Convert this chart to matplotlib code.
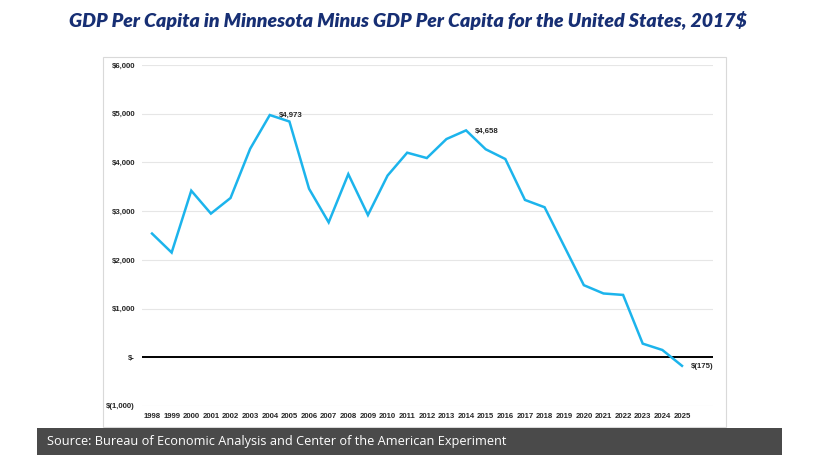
import matplotlib
matplotlib.use("Agg")
import matplotlib.pyplot as plt
from matplotlib.patches import Rectangle

years = [str(y) for y in range(1998, 2026)]
values = [2540, 2150, 3420, 2950, 3270, 4280, 4973, 4840, 3460, 2770,
          3760, 2920, 3730, 4200, 4090, 4480, 4658, 4270, 4070, 3230,
          3080, 2280, 1480, 1310, 1280, 280, 150, -175]
ytick_vals = [-1000, 0, 1000, 2000, 3000, 4000, 5000, 6000]
ytick_labels = ["$(1,000)", "$-", "$1,000", "$2,000", "$3,000", "$4,000", "$5,000", "$6,000"]
annot_years = ["2004", "2014", "2025"]
annot_labels = ["$4,973", "$4,658", "$(175)"]
title = "GDP Per Capita in Minnesota Minus GDP Per Capita for the United States, 2017$"
source = "Source: Bureau of Economic Analysis and Center of the American Experiment"

W, H = 813, 469
fig = plt.figure(figsize=(W / 100, H / 100), dpi=100)
fig.patch.set_facecolor("white")

def fx(px):
    return px / W

def fy(py):
    return 1 - py / H

# chart box border
fig.patches.append(Rectangle((fx(103), fy(427)), fx(726) - fx(103), fy(57) - fy(427),
                             transform=fig.transFigure, facecolor="white",
                             edgecolor="#d9d9d9", linewidth=0.8, zorder=-2))
# footer bar
fig.patches.append(Rectangle((fx(37), fy(455)), fx(782) - fx(37), fy(428) - fy(455),
                             transform=fig.transFigure, facecolor="#4a4a4a",
                             edgecolor="none", zorder=-1))
fig.text(fx(47), fy(441.5), source, color="white", fontsize=9.2,
         family=["Open Sans", "DejaVu Sans"], va="center", ha="left")

fig.text(fx(408), fy(20), title, color="#172f74", fontsize=14,
         fontweight="heavy", fontstyle="italic",
         family=["Lato", "DejaVu Sans"], ha="center", va="center")

ax = fig.add_axes([fx(142), fy(406), fx(713) - fx(142), fy(65) - fy(406)])
ax.set_zorder(5)
ax.set_facecolor("none")
x = list(range(len(years)))
ax.plot(x, values, color="#1cb4ec", linewidth=1.8, zorder=3, solid_joinstyle="miter")
ax.axhline(0, color="black", linewidth=1.4, zorder=2)

ax.set_ylim(-1000, 6000)
ax.set_xlim(-0.51, 28.58)
ax.set_yticks(ytick_vals)
ax.set_yticklabels(ytick_labels)
ax.set_xticks(x)
ax.set_xticklabels(years)
ax.grid(axis="y", color="#e6e6e6", linewidth=0.8, zorder=0)
for s in ax.spines.values():
    s.set_visible(False)
tickfont = dict(family=["Liberation Sans Narrow", "Liberation Sans", "DejaVu Sans"],
                fontweight="bold", fontsize=5.6)
ax.tick_params(axis="both", length=0, colors="#262626")
ax.tick_params(axis="y", pad=5)
ax.tick_params(axis="x", pad=5)
for lab in ax.get_xticklabels() + ax.get_yticklabels():
    lab.set_fontfamily(tickfont["family"])
    lab.set_fontweight("bold")
    lab.set_fontsize(5.6)

for yr, lab in zip(annot_years, annot_labels):
    i = years.index(yr)
    ax.annotate(lab, (i, values[i]), xytext=(6.3, -0.5), textcoords="offset points",
                va="center", ha="left", **tickfont, color="#262626")

fig.savefig("out.png", dpi=100)
